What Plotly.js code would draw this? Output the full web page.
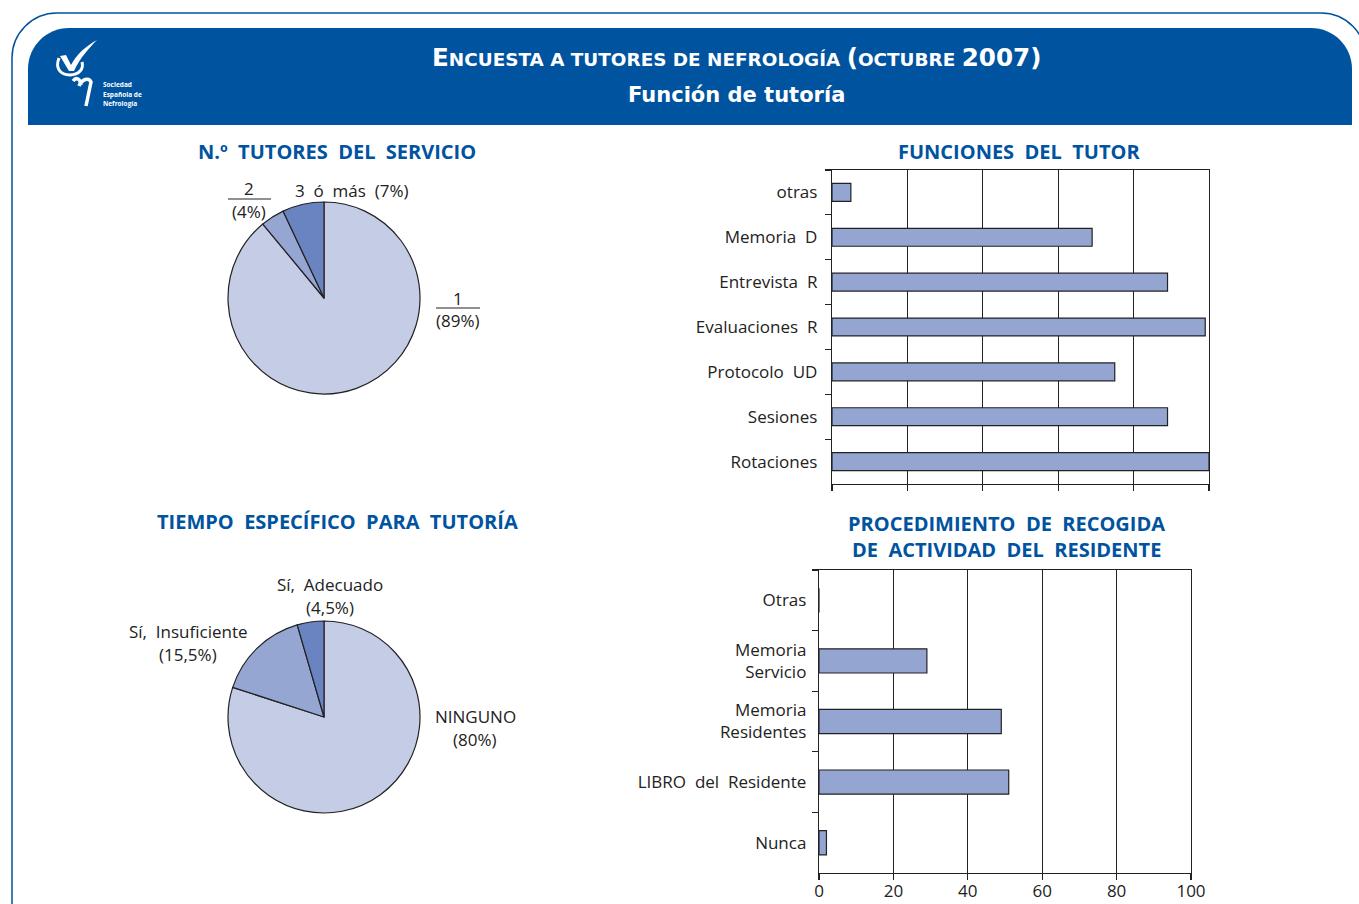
<!DOCTYPE html>
<html>
<head>
<meta charset="utf-8">
<script src="https://cdn.plot.ly/plotly-3.0.1.min.js"></script>
<style>html,body{margin:0;padding:0;background:#fff;}#chart{width:1359px;height:904px;}</style>
</head>
<body>
<div id="chart"></div>
<script>
// ---------- DATA ----------
const pie1Labels = ['1', '2', '3 ó más'];
const pie1Values = [89, 4, 7];
const pie2Labels = ['NINGUNO', 'Sí, Insuficiente', 'Sí, Adecuado'];
const pie2Values = [80, 15.5, 4.5];
const funcCategories = ['otras', 'Memoria D', 'Entrevista R', 'Evaluaciones R', 'Protocolo UD', 'Sesiones', 'Rotaciones'];
const funcValues = [5, 69, 89, 99, 75, 89, 100];
const procCategories = ['Otras', 'Memoria<br>Servicio', 'Memoria<br>Residentes', 'LIBRO del Residente', 'Nunca'];
const procValues = [0, 29, 49, 51, 2];
const xTicks = [0, 20, 40, 60, 80, 100];

// ---------- helpers ----------
const W = 1359, H = 904;
const px = x => x / W;
const py = y => 1 - y / H;
const BLUE = '#00539F';
const DARK = '#222222';
const FONT = 'Open Sans, Noto Sans, sans-serif';
const HFONT = 'DejaVu Sans, sans-serif';
const sp = s => s.split(' ').join('\u00A0 ');
function path(cmds) {
  return cmds.map(c => {
    const op = c[0];
    const nums = c.slice(1);
    const pts = [];
    for (let i = 0; i < nums.length; i += 2) pts.push(px(nums[i]).toFixed(5) + ',' + py(nums[i + 1]).toFixed(5));
    return op + ' ' + pts.join(' ');
  }).join(' ');
}
const K = 0.5523;
function dom(x0, x1) { return [px(x0), px(x1)]; }
function domY(yTop, yBot) { return [py(yBot), py(yTop)]; }

// ---------- shapes ----------
const shapes = [];
// outer frame
(function () {
  const R = 45, L = 12, T = 13, Rt = 1366;
  shapes.push({
    type: 'path', xref: 'paper', yref: 'paper', layer: 'below',
    path: path([
      ['M', L, 910], ['L', L, T + R],
      ['C', L, T + R - R * K, L + R - R * K, T, L + R, T],
      ['L', Rt - R, T],
      ['C', Rt - R + R * K, T, Rt, T + R - R * K, Rt, T + R],
      ['L', Rt, 910]
    ]),
    line: { color: BLUE, width: 1.5 }, fillcolor: 'rgba(0,0,0,0)'
  });
})();
// header band
(function () {
  const R = 41, L = 28, T = 28, B = 125, Rt = 1352;
  shapes.push({
    type: 'path', xref: 'paper', yref: 'paper', layer: 'below',
    path: path([
      ['M', L, B], ['L', L, T + R],
      ['C', L, T + R - R * K, L + R - R * K, T, L + R, T],
      ['L', Rt - R, T],
      ['C', Rt - R + R * K, T, Rt, T + R - R * K, Rt, T + R],
      ['L', Rt, B], ['Z']
    ]),
    line: { width: 0 }, fillcolor: BLUE
  });
})();
// logo
shapes.push({
  type: 'path', xref: 'paper', yref: 'paper',
  path: path([['M', 59, 58], ['C', 55, 68, 60, 75, 70, 75], ['C', 79, 75, 84, 69, 82, 62]]),
  line: { color: '#ffffff', width: 3 }, fillcolor: 'rgba(0,0,0,0)'
});
shapes.push({
  type: 'path', xref: 'paper', yref: 'paper',
  path: path([['M', 60, 56], ['L', 66, 55], ['L', 71, 65], ['C', 77, 54, 86, 46, 97, 40], ['C', 89, 48, 80, 58, 74, 71], ['L', 69, 71], ['Z']]),
  line: { width: 0 }, fillcolor: '#ffffff'
});
shapes.push({
  type: 'path', xref: 'paper', yref: 'paper',
  path: path([['M', 73, 81], ['C', 76, 77, 80, 78, 81, 85], ['M', 79, 86], ['C', 82, 79, 89, 77, 91, 82], ['L', 86, 106]]),
  line: { color: '#ffffff', width: 3.5 }, fillcolor: 'rgba(0,0,0,0)'
});
// fraction bars for pie 1 labels
shapes.push({ type: 'line', xref: 'paper', yref: 'paper', x0: px(228), x1: px(271), y0: py(199), y1: py(199), line: { color: DARK, width: 1.2 } });
shapes.push({ type: 'line', xref: 'paper', yref: 'paper', x0: px(436), x1: px(480), y0: py(308), y1: py(308), line: { color: DARK, width: 1.2 } });

// ---------- annotations ----------
const annotations = [];
function ann(x, y, text, size, color, opts, family) {
  annotations.push(Object.assign({
    xref: 'paper', yref: 'paper', x: px(x), y: py(y), text: text, showarrow: false,
    xanchor: 'center', yanchor: 'middle',
    font: { family: family || FONT, size: size, color: color }
  }, opts || {}));
}
// header text
const big = s => '<span style="font-size:24.6px">' + s + '</span>';
ann(737, 57, '<b>' + big('E') + 'NCUESTA A TUTORES DE NEFROLOGÍA ' + big('(') + 'OCTUBRE ' + big('2007)') + '</b>', 18.4, '#ffffff', null, HFONT);
ann(737, 95, '<b>Función de tutoría</b>', 21, '#ffffff', null, HFONT);
ann(101, 84, '<b>Sociedad</b>', 6.5, '#ffffff', { xanchor: 'left' });
ann(101, 94, '<b>Española de</b>', 6.5, '#ffffff', { xanchor: 'left' });
ann(101, 104, '<b>Nefrología</b>', 6.5, '#ffffff', { xanchor: 'left' });
// section titles
ann(337, 151, '<b>' + sp('N.º TUTORES DEL SERVICIO') + '</b>', 20, BLUE);
ann(337, 521, '<b>' + sp('TIEMPO ESPECÍFICO PARA TUTORÍA') + '</b>', 20, BLUE);
ann(1019, 151, '<b>' + sp('FUNCIONES DEL TUTOR') + '</b>', 20, BLUE);
ann(1006, 523, '<b>' + sp('PROCEDIMIENTO DE RECOGIDA') + '</b>', 20, BLUE);
ann(1006, 549, '<b>' + sp('DE ACTIVIDAD DEL RESIDENTE') + '</b>', 20, BLUE);
// pie 1 labels
ann(352, 190, sp(pie1Labels[2] + ' (' + pie1Values[2] + '%)'), 17, DARK);
ann(249, 188, pie1Labels[1], 17, DARK);
ann(249, 211, '(' + pie1Values[1] + '%)', 17, DARK);
ann(458, 298, pie1Labels[0], 17, DARK);
ann(458, 320, '(' + pie1Values[0] + '%)', 17, DARK);
// pie 2 labels
const pct = v => String(v).replace('.', ',');
ann(330, 584, sp(pie2Labels[2]), 17, DARK);
ann(330, 607, '(' + pct(pie2Values[2]) + '%)', 17, DARK);
ann(188, 631, sp(pie2Labels[1]), 17, DARK);
ann(188, 654, '(' + pct(pie2Values[1]) + '%)', 17, DARK);
ann(475, 716, pie2Labels[0], 17, DARK);
ann(475, 739, '(' + pct(pie2Values[0]) + '%)', 17, DARK);

// ---------- traces ----------
const pieLine = { color: DARK, width: 1.2 };
const pieColors = ['#C5CCE6', '#96A6D3', '#6A83C1'];
const data = [
  {
    type: 'pie', labels: pie1Labels, values: pie1Values, sort: false, direction: 'clockwise', rotation: 0,
    marker: { colors: pieColors, line: pieLine },
    textinfo: 'none', hoverinfo: 'label+percent', showlegend: false,
    domain: { x: dom(228, 420), y: domY(202, 394) }
  },
  {
    type: 'pie', labels: pie2Labels, values: pie2Values, sort: false, direction: 'clockwise', rotation: 0,
    marker: { colors: pieColors, line: pieLine },
    textinfo: 'none', hoverinfo: 'label+percent', showlegend: false,
    domain: { x: dom(228, 420), y: domY(621, 813) }
  },
  {
    type: 'bar', orientation: 'h', y: funcCategories.map(sp), x: funcValues, width: 0.4,
    marker: { color: '#95A5D2', line: { color: DARK, width: 1.2 } },
    xaxis: 'x', yaxis: 'y', showlegend: false, hoverinfo: 'x+y'
  },
  {
    type: 'bar', orientation: 'h', y: procCategories.map(sp), x: procValues, width: 0.4,
    marker: { color: '#95A5D2', line: { color: DARK, width: 1.2 } },
    xaxis: 'x2', yaxis: 'y2', showlegend: false, hoverinfo: 'x+y'
  }
];

const tickFont = { family: FONT, size: 17, color: DARK };
const xCommon = {
  range: [0, 100], tickvals: xTicks, showgrid: true, gridcolor: DARK, gridwidth: 1.2,
  showline: true, linecolor: DARK, linewidth: 1.2, mirror: true, zeroline: false,
  ticks: 'outside', ticklen: 6, tickcolor: DARK, tickwidth: 1.2, tickfont: tickFont, fixedrange: true
};
const yCommon = {
  type: 'category', autorange: 'reversed', showgrid: false, showline: true, linecolor: DARK, linewidth: 1.2,
  mirror: true, zeroline: false, ticks: 'outside', tickson: 'boundaries', ticklen: 6, tickcolor: DARK,
  tickwidth: 1.2, tickfont: tickFont, fixedrange: true
};

const layout = {
  width: W, height: H,
  margin: { l: 0, r: 0, t: 0, b: 0, pad: 0 },
  paper_bgcolor: '#ffffff', plot_bgcolor: 'rgba(0,0,0,0)',
  showlegend: false,
  xaxis: Object.assign({}, xCommon, { domain: dom(832, 1209), anchor: 'y', showticklabels: false }),
  yaxis: Object.assign({}, yCommon, { domain: domY(170, 484), anchor: 'x', ticklabelstandoff: 10 }),
  xaxis2: Object.assign({}, xCommon, { domain: dom(819, 1191), anchor: 'y2', showticklabels: true, ticklabelstandoff: -4 }),
  yaxis2: Object.assign({}, yCommon, { domain: domY(570, 873), anchor: 'x2', ticklabelstandoff: 8 }),
  shapes: shapes,
  annotations: annotations,
  font: { family: FONT, color: DARK }
};

Plotly.newPlot('chart', data, layout, { displayModeBar: false, staticPlot: true });
</script>
</body>
</html>
